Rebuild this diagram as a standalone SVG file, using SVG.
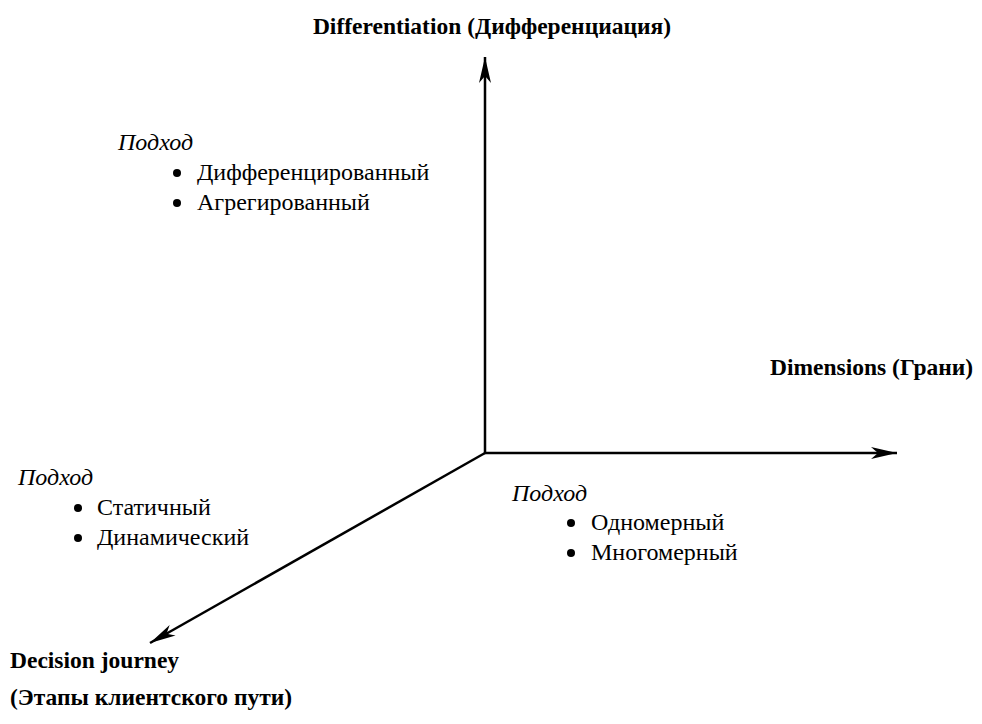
<svg xmlns="http://www.w3.org/2000/svg" width="982" height="724" viewBox="0 0 982 724">
<style>
text{font-family:"Liberation Serif","Times New Roman",serif;font-size:24px;fill:#000}
.b{font-weight:bold;font-size:23.5px}
.i{font-style:italic}
.ax{stroke:#000;stroke-width:2.5;fill:none}
.dot{fill:#000}
</style>
<defs>
<marker id="arr" markerUnits="userSpaceOnUse" markerWidth="30" markerHeight="14" refX="26" refY="7" orient="auto">
<path d="M0,1 L26,7 L0,13 L7,7 Z" fill="#000"/>
</marker>
</defs>
<rect width="982" height="724" fill="#fff"/>
<g id="connectors">
<line class="ax" x1="485" y1="454" x2="485" y2="57" marker-end="url(#arr)"/>
<line class="ax" x1="484" y1="453" x2="897" y2="453" marker-end="url(#arr)"/>
<line class="ax" x1="485" y1="453" x2="150" y2="643" marker-end="url(#arr)"/>
</g>
<g id="axis-differentiation"><text class="b" x="492" y="34" text-anchor="middle">Differentiation (Дифференциация)</text></g>
<g id="axis-dimensions"><text class="b" x="770" y="375">Dimensions (Грани)</text></g>
<g id="axis-journey"><text class="b" x="10" y="668">Decision journey</text><text class="b" x="10" y="705">(Этапы клиентского пути)</text></g>
<g id="approach-top">
<text class="i" x="118" y="150">Подход</text>
<circle class="dot" cx="177" cy="173" r="4"/><text x="197" y="180">Дифференцированный</text>
<circle class="dot" cx="177" cy="203" r="4"/><text x="197" y="210">Агрегированный</text>
</g>
<g id="approach-left">
<text class="i" x="18" y="485">Подход</text>
<circle class="dot" cx="78" cy="508" r="4"/><text x="97" y="515">Статичный</text>
<circle class="dot" cx="78" cy="538" r="4"/><text x="97" y="545">Динамический</text>
</g>
<g id="approach-right">
<text class="i" x="512" y="501">Подход</text>
<circle class="dot" cx="571" cy="523" r="4"/><text x="591" y="530">Одномерный</text>
<circle class="dot" cx="571" cy="553" r="4"/><text x="591" y="560">Многомерный</text>
</g>
</svg>
